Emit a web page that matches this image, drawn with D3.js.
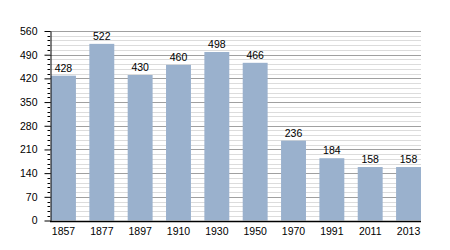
<!DOCTYPE html>
<html>
<head>
<meta charset="utf-8">
<script src="https://cdn.jsdelivr.net/npm/d3@7"></script>
<style>
  body { margin: 0; background: #fff; }
  text { font-family: "Liberation Sans", Arial, sans-serif; font-size: 10.5px; fill: #000; }
</style>
</head>
<body>
<div id="chart"></div>
<script>
// data
const years = ["1857", "1877", "1897", "1910", "1930", "1950", "1970", "1991", "2011", "2013"];
const population = [428, 522, 430, 460, 498, 466, 236, 184, 158, 158];
const yTicks = [0, 70, 140, 210, 280, 350, 420, 490, 560];

const width = 450, height = 250;

const svg = d3.select("#chart")
  .append("svg")
  .attr("width", width)
  .attr("height", height);

const x = d3.scaleBand()
  .domain(years)
  .range([51, 421])
  .paddingInner(0.35)
  .paddingOuter(0);

const y = d3.scaleLinear()
  .domain([0, 560])
  .range([220.5, 31]);

// minor grid every 14, major every 70
const minor = d3.range(0, 561, 14).filter(v => v % 70 !== 0);

svg.append("g")
  .selectAll("line")
  .data(minor)
  .join("line")
  .attr("x1", 50).attr("x2", 421)
  .attr("y1", d => Math.round(y(d)) + 0.5)
  .attr("y2", d => Math.round(y(d)) + 0.5)
  .attr("stroke", "#dcdcdc");

svg.append("g")
  .selectAll("line")
  .data(yTicks.slice(1))
  .join("line")
  .attr("x1", 50).attr("x2", 421)
  .attr("y1", d => Math.round(y(d)) + 0.5)
  .attr("y2", d => Math.round(y(d)) + 0.5)
  .attr("stroke", "#a0a0a0");

// bars
svg.append("g")
  .selectAll("rect")
  .data(population)
  .join("rect")
  .attr("x", (d, i) => x(years[i]))
  .attr("y", d => y(d))
  .attr("width", x.bandwidth())
  .attr("height", d => y(0) - y(d))
  .attr("fill", "#9ab1cd");

// value labels
svg.append("g")
  .selectAll("text")
  .data(population)
  .join("text")
  .attr("x", (d, i) => x(years[i]) + x.bandwidth() / 2)
  .attr("y", d => y(d) - 4)
  .attr("text-anchor", "middle")
  .text(d => d);

// y axis with minor ticks
svg.append("g")
  .selectAll("line")
  .data(minor)
  .join("line")
  .attr("x1", 47.5).attr("x2", 50)
  .attr("y1", d => Math.round(y(d)) + 0.5)
  .attr("y2", d => Math.round(y(d)) + 0.5)
  .attr("stroke", "#000");

const yAxis = svg.append("g")
  .attr("transform", "translate(50.5,0)")
  .call(d3.axisLeft(y).tickValues(yTicks).tickSize(6).tickPadding(7).tickSizeOuter(0));
yAxis.selectAll(".tick line").attr("stroke", "#000");
yAxis.select(".domain").attr("stroke", "#000");
yAxis.selectAll("text").style("font-size", "10.5px").attr("fill", "#000");

// x axis
const xAxis = svg.append("g")
  .attr("transform", `translate(0,${Math.round(y(0)) + 0.5})`)
  .call(d3.axisBottom(x).tickSize(0).tickPadding(6).tickSizeOuter(0));
xAxis.select(".domain").attr("stroke", "#000").attr("stroke-width", 1.5).attr("d", "M50,0H421");
xAxis.selectAll("text").style("font-size", "10.5px").attr("fill", "#000");
</script>
</body>
</html>
